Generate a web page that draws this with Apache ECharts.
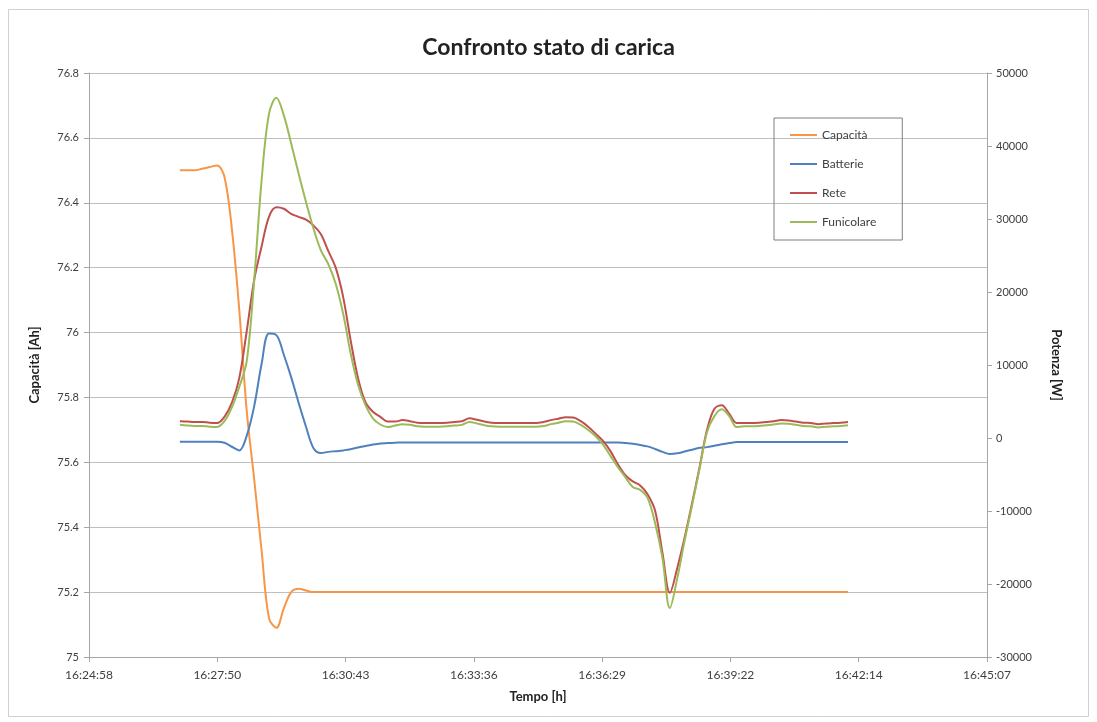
<!DOCTYPE html>
<html>
<head>
<meta charset="utf-8">
<script src="https://cdn.jsdelivr.net/npm/echarts@6/dist/echarts.min.js"></script>
<style>html,body{margin:0;padding:0;background:#fff}#chart{width:1097px;height:722px}</style>
</head>
<body>
<div id="chart"></div>
<script>
// ---- data ----
const seriesNames = ["Capacità", "Batterie", "Rete", "Funicolare"];
const xTickLabels = ["16:24:58","16:27:50","16:30:43","16:33:36","16:36:29","16:39:22","16:42:14","16:45:07"];
const leftTicks = [75, 75.2, 75.4, 75.6, 75.8, 76, 76.2, 76.4, 76.6, 76.8];
const rightTicks = [-30000, -20000, -10000, 0, 10000, 20000, 30000, 40000, 50000];

const times = [
"16:27:00","16:27:10","16:27:20","16:27:30","16:27:40","16:27:50",
"16:28:00","16:28:10","16:28:20","16:28:30","16:28:40","16:28:50",
"16:29:00","16:29:10","16:29:20","16:29:30","16:29:40","16:29:50",
"16:30:00","16:30:10","16:30:20","16:30:30","16:30:40","16:30:50",
"16:31:00","16:31:10","16:31:20","16:31:30","16:31:40","16:31:50",
"16:32:00","16:32:10","16:32:20","16:32:30","16:32:40","16:32:50",
"16:33:00","16:33:10","16:33:20","16:33:30","16:33:40","16:33:50",
"16:34:00","16:34:10","16:34:20","16:34:30","16:34:40","16:34:50",
"16:35:00","16:35:10","16:35:20","16:35:30","16:35:40","16:35:50",
"16:36:00","16:36:10","16:36:20","16:36:30","16:36:40","16:36:50",
"16:37:00","16:37:10","16:37:20","16:37:30","16:37:40","16:37:50",
"16:38:00","16:38:10","16:38:20","16:38:30","16:38:40","16:38:50",
"16:39:00","16:39:10","16:39:20","16:39:30","16:39:40","16:39:50",
"16:40:00","16:40:10","16:40:20","16:40:30","16:40:40","16:40:50",
"16:41:00","16:41:10","16:41:20","16:41:30","16:41:40","16:41:50",
"16:42:00"];

const capacita = [
76.50,76.50,76.50,76.505,76.51,76.515,76.48,76.32,76.07,75.76,
75.55,75.33,75.12,75.09,75.15,75.20,75.21,75.205,75.20,75.20,
75.20,75.20,75.20,75.20,75.20,75.20,75.20,75.20,75.20,75.20,
75.20,75.20,75.20,75.20,75.20,75.20,75.20,75.20,75.20,75.20,
75.20,75.20,75.20,75.20,75.20,75.20,75.20,75.20,75.20,75.20,
75.20,75.20,75.20,75.20,75.20,75.20,75.20,75.20,75.20,75.20,
75.20,75.20,75.20,75.20,75.20,75.20,75.20,75.20,75.20,75.20,
75.20,75.20,75.20,75.20,75.20,75.20,75.20,75.20,75.20,75.20,
75.20,75.20,75.20,75.20,75.20,75.20,75.20,75.20,75.20,75.20,
75.20];

const batterie = [
-500,-500,-500,-500,-500,-500,-650,-1200,-1700,300,
4300,10100,14300,14100,11400,8300,4800,1500,-1400,-2050,
-1900,-1800,-1700,-1550,-1300,-1100,-900,-750,-700,-650,
-600,-600,-600,-600,-600,-600,-600,-600,-600,-600,
-600,-600,-600,-600,-600,-600,-600,-600,-600,-600,
-600,-600,-600,-600,-600,-600,-600,-600,-600,-600,
-700,-800,-950,-1150,-1500,-1900,-2200,-2100,-1850,-1600,
-1350,-1250,-1050,-850,-700,-550,-550,-550,-550,-550,
-550,-550,-550,-550,-550,-550,-550,-550,-550,-550,
-550];

const rete = [
2300,2250,2200,2200,2100,2050,2900,4800,8200,14600,
21600,26200,30300,31600,31400,30700,30300,29900,29100,27900,
25600,23300,19300,13400,8200,4900,3600,2900,2250,2250,
2450,2300,2100,2050,2050,2050,2100,2200,2300,2700,
2500,2250,2100,2050,2050,2050,2050,2050,2050,2200,
2450,2650,2850,2800,2300,1550,600,-400,-1800,-3600,
-5100,-5950,-6500,-7700,-9900,-15700,-21200,-17800,-13600,-8900,
-4000,1100,4000,4500,3300,2050,2050,2050,2100,2200,
2300,2450,2400,2250,2100,2050,1900,2000,2050,2100,
2200];

const funicolare = [
1800,1700,1650,1650,1550,1500,2300,4200,7000,10500,
21500,35200,44400,46600,44200,40300,36200,32300,28700,25700,
23800,21100,17000,11600,7300,4500,2700,1850,1500,1700,
1900,1800,1600,1550,1550,1550,1600,1700,1800,2200,
2000,1750,1600,1550,1550,1550,1550,1550,1550,1650,
1900,2100,2300,2250,1800,1100,250,-900,-2450,-4000,
-5350,-6700,-7100,-8200,-11600,-16400,-23300,-19200,-14000,-9200,
-4250,800,3000,3950,3000,1500,1600,1600,1650,1750,
1850,2000,1950,1800,1650,1600,1450,1550,1600,1650,
1750];

// ---- helpers ----
function toSec(t) { const p = t.split(":").map(Number); return p[0]*3600 + p[1]*60 + p[2]; }
const xStep = 172.8;                 // Excel major unit 0.002 day
const xMin = 342 * xStep;            // 16:24:57.6
const xMax = xMin + (xTickLabels.length - 1) * xStep;
const pts = arr => times.map((t, i) => [toSec(t), arr[i]]);

const colors = ["#F79646", "#4F81BD", "#C0504D", "#9BBB59"];
const FONT = "Lato";
const txt = "#404040";
const axisGray = "#a6a6a6";

const chart = echarts.init(document.getElementById("chart"), null, { renderer: "canvas" });
chart.setOption({
  backgroundColor: "#ffffff",
  animation: false,
  color: colors,
  textStyle: { fontFamily: FONT },
  title: {
    text: "Confronto stato di carica",
    left: "center", top: 31,
    textStyle: { fontFamily: FONT, fontSize: 23, fontWeight: "bold", color: "#222" }
  },
  graphic: [{
    type: "rect", silent: true, z: -1,
    shape: { x: 8.5, y: 9.5, width: 1080, height: 707 },
    style: { fill: "none", stroke: "#d0d0d0", lineWidth: 1 }
  }],
  legend: {
    orient: "vertical",
    left: 774, top: 118,
    data: seriesNames,
    icon: "path://M0,0H27V2H0Z",
    borderColor: "#7f7f7f", borderWidth: 1,
    padding: [11, 26, 12, 16],
    itemWidth: 27, itemHeight: 14, itemGap: 17,
    textStyle: { fontFamily: FONT, fontSize: 12, color: txt }
  },
  grid: { left: 89, right: 110, top: 73, bottom: 65, containLabel: false, outerBoundsMode: "none" },
  xAxis: {
    type: "value",
    min: xMin, max: xMax, interval: xStep,
    name: "Tempo [h]", nameLocation: "middle", nameGap: 33,
    nameTextStyle: { fontFamily: FONT, fontSize: 13, fontWeight: "bold", color: "#222" },
    axisLine: { show: true, onZero: false, lineStyle: { color: axisGray } },
    axisTick: { show: true, length: 5, lineStyle: { color: axisGray } },
    splitLine: { show: false },
    axisLabel: {
      margin: 12, fontFamily: FONT, fontSize: 12, color: txt,
      formatter: v => xTickLabels[Math.round((v - xMin) / xStep)] || ""
    }
  },
  yAxis: [{
    type: "value", position: "left",
    min: leftTicks[0], max: leftTicks[leftTicks.length - 1], interval: 0.2,
    name: "Capacità [Ah]", nameLocation: "middle", nameGap: 48, nameRotate: 90,
    nameTextStyle: { fontFamily: FONT, fontSize: 13, fontWeight: "bold", color: "#222" },
    axisLine: { show: true, onZero: false, lineStyle: { color: axisGray } },
    axisTick: { show: true, length: 5, lineStyle: { color: axisGray } },
    splitLine: { show: true, lineStyle: { color: "#bfbfbf", width: 1 } },
    axisLabel: {
      margin: 10, fontFamily: FONT, fontSize: 11, color: txt,
      formatter: v => String(+(+v).toFixed(1))
    }
  }, {
    type: "value", position: "right",
    min: rightTicks[0], max: rightTicks[rightTicks.length - 1], interval: 10000,
    name: "Potenza [W]", nameLocation: "middle", nameGap: 63, nameRotate: -90,
    nameTextStyle: { fontFamily: FONT, fontSize: 13, fontWeight: "bold", color: "#222" },
    axisLine: { show: true, onZero: false, lineStyle: { color: axisGray } },
    axisTick: { show: true, length: 5, lineStyle: { color: axisGray } },
    splitLine: { show: false },
    axisLabel: {
      margin: 9, fontFamily: FONT, fontSize: 11, color: txt,
      formatter: v => String(Math.round(v))
    }
  }],
  series: [
    { name: seriesNames[0], type: "line", yAxisIndex: 0, data: pts(capacita) },
    { name: seriesNames[1], type: "line", yAxisIndex: 1, data: pts(batterie) },
    { name: seriesNames[2], type: "line", yAxisIndex: 1, data: pts(rete) },
    { name: seriesNames[3], type: "line", yAxisIndex: 1, data: pts(funicolare) }
  ].map((s, i) => Object.assign(s, {
    symbol: "none", showSymbol: false, smooth: 0.35,
    lineStyle: { width: 2, color: colors[i] },
    itemStyle: { color: colors[i] }
  }))
});
</script>
</body>
</html>
